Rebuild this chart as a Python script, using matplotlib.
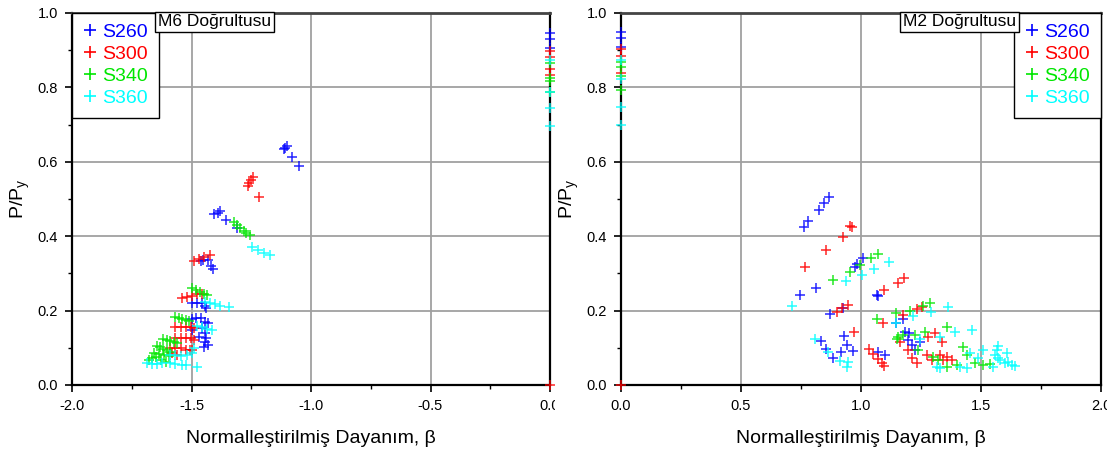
import matplotlib
matplotlib.use("Agg")
import matplotlib.pyplot as plt
from matplotlib.ticker import MultipleLocator, FormatStrFormatter
from matplotlib.transforms import Bbox, TransformedBbox
from matplotlib.lines import Line2D

plt.rcParams['font.family'] = ['Liberation Sans', 'DejaVu Sans']
plt.rcParams['mathtext.fontset'] = 'custom'
plt.rcParams['mathtext.rm'] = 'Liberation Sans'
plt.rcParams['mathtext.it'] = 'Liberation Sans:italic'

series_names = ["S260", "S300", "S340", "S360"]
series_colors = ["#0000ff", "#ff0000", "#00e600", "#00ffff"]

# ---------------- M6 direction ----------------
m6_s260_beta = [0, 0, 0,
                -1.115, -1.11, -1.10, -1.078, -1.049,
                -1.404, -1.39, -1.379, -1.354, -1.31,
                -1.46, -1.45, -1.43, -1.42, -1.412,
                -1.497, -1.476, -1.458, -1.442, -1.438,
                -1.497, -1.483, -1.462, -1.442, -1.432, -1.455,
                -1.442, -1.438, -1.442, -1.432, -1.449, -1.497, -1.47]
m6_s260_p = [0.946, 0.929, 0.907,
             0.634, 0.638, 0.643, 0.612, 0.588,
             0.460, 0.463, 0.468, 0.443, 0.421,
             0.333, 0.336, 0.336, 0.321, 0.312,
             0.220, 0.220, 0.220, 0.212, 0.206,
             0.177, 0.179, 0.179, 0.170, 0.166, 0.152,
             0.139, 0.126, 0.116, 0.108, 0.103, 0.148, 0.130]

m6_s300_beta = [0, 0, 0, 0, 0,
                -1.264, -1.26, -1.251, -1.243, -1.218,
                -1.49, -1.47, -1.449, -1.421,
                -1.539, -1.518, -1.497, -1.476, -1.455,
                -1.567, -1.546, -1.525, -1.504, -1.488,
                -1.567, -1.546, -1.525, -1.504, -1.49, -1.497,
                -1.588, -1.567, -1.546, -1.525, -1.507, -1.58, -1.56]
m6_s300_p = [0.898, 0.881, 0.850, 0.832, 0.0,
             0.536, 0.544, 0.551, 0.558, 0.506,
             0.334, 0.339, 0.345, 0.350,
             0.233, 0.237, 0.240, 0.244, 0.245,
             0.155, 0.155, 0.157, 0.157, 0.152,
             0.126, 0.126, 0.126, 0.127, 0.121, 0.094,
             0.099, 0.099, 0.099, 0.094, 0.094, 0.085, 0.080]

m6_s340_beta = [0, 0, 0, 0,
                -1.324, -1.31, -1.296, -1.282, -1.271, -1.257,
                -1.5, -1.483, -1.465, -1.449, -1.435,
                -1.567, -1.553, -1.539, -1.525, -1.511,
                -1.62, -1.603, -1.589, -1.575, -1.561,
                -1.645, -1.632, -1.618, -1.603, -1.589,
                -1.657, -1.636, -1.615, -1.594,
                -1.678, -1.664, -1.65, -1.629, -1.608]
m6_s340_p = [0.865, 0.824, 0.818, 0.788,
             0.439, 0.430, 0.421, 0.415, 0.409, 0.403,
             0.260, 0.255, 0.249, 0.245, 0.242,
             0.184, 0.181, 0.177, 0.175, 0.173,
             0.123, 0.121, 0.119, 0.116, 0.114,
             0.105, 0.101, 0.098, 0.094, 0.090,
             0.085, 0.083, 0.081, 0.078,
             0.067, 0.072, 0.074, 0.067, 0.063]

m6_s360_beta = [0, 0, 0, 0,
                -1.246, -1.221, -1.198, -1.170,
                -1.442, -1.421, -1.4, -1.379, -1.345,
                -1.476, -1.455, -1.435, -1.414,
                -1.588, -1.567, -1.546, -1.518, -1.497, -1.49,
                -1.685, -1.664, -1.643, -1.622, -1.588, -1.567, -1.539, -1.525, -1.476]
m6_s360_p = [0.874, 0.788, 0.744, 0.696,
             0.372, 0.363, 0.356, 0.349,
             0.224, 0.220, 0.217, 0.212, 0.209,
             0.159, 0.155, 0.150, 0.148,
             0.081, 0.081, 0.078, 0.081, 0.085, 0.099,
             0.060, 0.056, 0.056, 0.058, 0.058, 0.056, 0.054, 0.054, 0.049]

# ---------------- M2 direction ----------------
m2_s260_beta = [0, 0, 0,
                0.868, 0.847, 0.826, 0.78, 0.762,
                1.01, 0.982, 0.975, 1.065, 1.07, 0.8125, 0.746,
                0.924, 0.871,
                0.929, 0.94, 0.968, 0.917, 0.882, 0.854, 0.832,
                1.072, 1.10, 1.146, 1.176,
                1.183, 1.201, 1.197, 1.211, 1.225, 1.246]
m2_s260_p = [0.950, 0.932, 0.909,
             0.506, 0.488, 0.470, 0.442, 0.426,
             0.341, 0.324, 0.318, 0.242, 0.240, 0.262, 0.242,
             0.206, 0.191,
             0.133, 0.108, 0.091, 0.090, 0.072, 0.096, 0.118,
             0.090, 0.081, 0.166, 0.177,
             0.143, 0.139, 0.121, 0.108, 0.094, 0.116]

m2_s300_beta = [0, 0, 0, 0,
                0.954, 0.961, 0.924, 0.854, 0.767,
                1.179, 1.153, 1.097, 0.947, 0.92, 0.899,
                0.971, 1.093,
                1.035, 1.051, 1.072, 1.086, 1.096,
                1.253, 1.232, 1.176,
                1.308, 1.28, 1.336, 1.1625,
                1.197, 1.211, 1.232, 1.274, 1.295, 1.329, 1.343, 1.357, 1.378]
m2_s300_p = [0.902, 0.884, 0.838, 0.0,
             0.427, 0.425, 0.399, 0.363, 0.316,
             0.288, 0.273, 0.255, 0.215, 0.206, 0.197,
             0.143, 0.166,
             0.097, 0.083, 0.069, 0.058, 0.051,
             0.209, 0.203, 0.188,
             0.139, 0.130, 0.116, 0.116,
             0.094, 0.072, 0.058, 0.081, 0.067, 0.081, 0.067, 0.074, 0.067]

m2_s340_beta = [0, 0, 0, 0,
                1.07, 1.04, 0.996, 0.954, 0.885,
                1.2875, 1.257, 1.146, 1.204, 1.065,
                1.357, 1.267, 1.149, 1.155, 1.176, 1.225,
                1.239, 1.301, 1.322, 1.357, 1.399, 1.426, 1.44, 1.475, 1.51, 1.5375]
m2_s340_p = [0.869, 0.856, 0.831, 0.793,
             0.352, 0.341, 0.323, 0.305, 0.282,
             0.220, 0.213, 0.193, 0.200, 0.177,
             0.155, 0.143, 0.125, 0.130, 0.134, 0.134,
             0.094, 0.076, 0.067, 0.049, 0.054, 0.103, 0.081, 0.058, 0.054, 0.056]

m2_s360_beta = [0, 0, 0, 0,
                0.714, 0.9375, 1.003, 1.055, 1.117,
                0.808, 0.864, 0.947, 0.943, 0.9125,
                1.364, 1.29, 1.218, 1.146,
                1.392, 1.461, 1.329, 1.246,
                1.315, 1.329, 1.4125, 1.44, 1.454, 1.489, 1.51, 1.558, 1.568, 1.551, 1.572,
                1.572, 1.607, 1.579, 1.60, 1.614, 1.628, 1.642]
m2_s360_p = [0.875, 0.823, 0.748, 0.699,
             0.212, 0.280, 0.296, 0.313, 0.331,
             0.123, 0.090, 0.063, 0.049, 0.065,
             0.209, 0.197, 0.185, 0.168,
             0.143, 0.149, 0.130, 0.125,
             0.049, 0.045, 0.049, 0.045, 0.085, 0.072, 0.094, 0.081, 0.094, 0.049, 0.072,
             0.105, 0.087, 0.067, 0.058, 0.063, 0.054, 0.051]

m6_data = [(m6_s260_beta, m6_s260_p), (m6_s300_beta, m6_s300_p),
           (m6_s340_beta, m6_s340_p), (m6_s360_beta, m6_s360_p)]
m2_data = [(m2_s260_beta, m2_s260_p), (m2_s300_beta, m2_s300_p),
           (m2_s340_beta, m2_s340_p), (m2_s360_beta, m2_s360_p)]

W, H = 1111, 455
fig = plt.figure(figsize=(W / 100, H / 100), dpi=100)

def px_axes(x0, x1, y_top, y_bot):
    return fig.add_axes([x0 / W, 1 - y_bot / H, (x1 - x0) / W, (y_bot - y_top) / H])

ax_l = px_axes(72, 550, 13, 385)
ax_r = px_axes(621, 1101, 13, 385)


def style_axes(ax, xlim, title, legend_loc, title_x, title_ha, clip_right_px):
    ax.set_xlim(*xlim)
    ax.set_ylim(0, 1.0)
    ax.xaxis.set_major_locator(MultipleLocator(0.5))
    ax.xaxis.set_minor_locator(MultipleLocator(0.25))
    ax.yaxis.set_major_locator(MultipleLocator(0.2))
    ax.yaxis.set_minor_locator(MultipleLocator(0.1))
    ax.xaxis.set_major_formatter(FormatStrFormatter('%.1f'))
    ax.yaxis.set_major_formatter(FormatStrFormatter('%.1f'))
    ax.grid(True, which='major', color='#a0a0a0', linewidth=1.3)
    ax.set_axisbelow(True)
    ax.tick_params(which='major', direction='out', length=5, width=1.2, labelsize=10.5,
                   colors='black', pad=5)
    ax.tick_params(which='minor', direction='out', length=3, width=1.0)
    ax.tick_params(top=False, right=False)
    for side in ('left', 'bottom', 'right'):
        ax.spines[side].set_linewidth(1.6)
        ax.spines[side].set_color('black')
    ax.spines['top'].set_linewidth(2.0)
    ax.spines['top'].set_color('#444444')
    ax.set_xlabel('Normalleştirilmiş Dayanım, β', fontsize=14, labelpad=12)
    ax.set_ylabel(r'P/P$_\mathregular{y}$', fontsize=14, labelpad=4)

    handles = [Line2D([], [], linestyle='none', marker='+', color=c, markersize=8,
                      markeredgewidth=1.2) for c in series_colors]
    anchor = (0, 1) if legend_loc == 'upper left' else (1, 1)
    leg = ax.legend(handles, series_names, loc=legend_loc, bbox_to_anchor=anchor,
                    borderaxespad=0, fontsize=14, handlelength=0.7, handletextpad=0.3,
                    labelspacing=0.22, borderpad=0.55, fancybox=False,
                    framealpha=1, edgecolor='black')
    leg.get_frame().set_linewidth(1.0)
    for txt, c in zip(leg.get_texts(), series_colors):
        txt.set_color(c)

    ax.text(title_x, 0.997, title, transform=ax.transAxes, ha=title_ha, va='top',
            fontsize=12.5, zorder=6,
            bbox=dict(boxstyle='square,pad=0.15', facecolor='white', edgecolor='black',
                      linewidth=1.0))

    clip = TransformedBbox(Bbox([[0, 0], [clip_right_px / W, 1]]), fig.transFigure)
    for lab in ax.get_xticklabels():
        lab.set_clip_box(clip)
        lab.set_clip_on(True)


for ax, data in ((ax_l, m6_data), (ax_r, m2_data)):
    for (bx, py), c in zip(data, series_colors):
        ax.plot(bx, py, linestyle='none', marker='+', color=c, markersize=7.5,
                markeredgewidth=1.1, alpha=0.85, clip_on=False, zorder=3)

style_axes(ax_l, (-2.0, 0.0), 'M6 Doğrultusu', 'upper left', 0.180, 'left', 555)
style_axes(ax_r, (0.0, 2.0), 'M2 Doğrultusu', 'upper right', 0.823, 'right', 1107)

fig.savefig('out.png', dpi=100, facecolor='white')
